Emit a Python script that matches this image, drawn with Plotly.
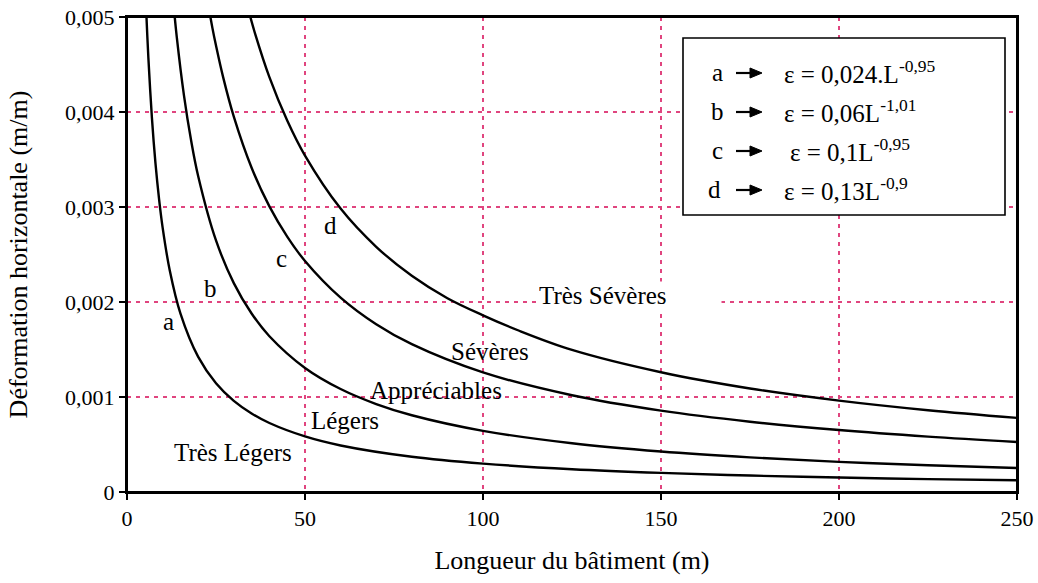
import plotly.graph_objects as go

# ---- data ----
L_a = [5, 5.5, 6, 7, 8, 9, 10, 12, 15, 20, 25, 30, 35, 40, 50, 60, 80, 100, 125, 150, 175, 200, 225, 250]
eps_a = [0.005457, 0.004975, 0.004573, 0.003938, 0.003459, 0.003086, 0.002786, 0.002334, 0.001880, 0.001422,
         0.001145, 0.000960, 0.000827, 0.000726, 0.000585, 0.000490, 0.000371, 0.000299, 0.000240, 0.000201,
         0.000173, 0.000152, 0.000136, 0.000123]

L_b = [13, 14, 16, 18, 20, 25, 30, 35, 40, 50, 60, 70, 80, 100, 125, 150, 175, 200, 225, 250]
eps_b = [0.005161, 0.004783, 0.004175, 0.003702, 0.003324, 0.002648, 0.002199, 0.001879, 0.001640, 0.001306,
         0.001084, 0.000926, 0.000808, 0.000644, 0.000513, 0.000426, 0.000364, 0.000317, 0.000281, 0.000253]

L_c = [22, 24, 25, 27, 30, 35, 40, 45, 50, 60, 70, 80, 100, 125, 150, 175, 200, 225, 250]
eps_c = [0.005305, 0.004883, 0.004699, 0.004367, 0.003951, 0.003413, 0.003007, 0.002689, 0.002432, 0.002046,
         0.001766, 0.001556, 0.001259, 0.001018, 0.000856, 0.000740, 0.000652, 0.000583, 0.000527]

L_d = [34, 36, 40, 45, 50, 60, 70, 80, 90, 100, 110, 125, 150, 175, 200, 225, 250]
eps_d = [0.005089, 0.004823, 0.004367, 0.003910, 0.003541, 0.002983, 0.002581, 0.002276, 0.002040, 0.001860,
         0.001700, 0.001496, 0.001261, 0.001090, 0.000962, 0.000861, 0.000780]

x_ticks = [0, 50, 100, 150, 200, 250]
x_ticklabels = ["0", "50", "100", "150", "200", "250"]
y_ticks = [0, 0.001, 0.002, 0.003, 0.004, 0.005]
y_ticklabels = ["0", "0,001", "0,002", "0,003", "0,004", "0,005"]

curve_letters = ["a", "b", "c", "d"]
zone_labels = ["Très Légers", "Légers", "Appréciables", "Sévères", "Très Sévères"]
equations = ["ε = 0,024.L<sup>-0,95</sup>", "ε = 0,06L<sup>-1,01</sup>",
             "ε = 0,1L<sup>-0,95</sup>", "ε = 0,13L<sup>-0,9</sup>"]

# ---- layout geometry (page pixels; page body margin removed by post_script) ----
W, H = 1038, 583
PL, PR, PT, PB = 127, 1017, 17, 492          # plot area in page pixels
ML, MT = PL, PT
MR, MB = W - PR, H - PB
X0, X1 = 0, 250
Y0, Y1 = 0, 0.005


def dx(px):
    return X0 + (px - PL) / (PR - PL) * (X1 - X0)


def dy(py):
    return Y0 + (PB - py) / (PB - PT) * (Y1 - Y0)


FONT = "Liberation Serif, Times New Roman, serif"
GRID = "#e0457f"

fig = go.Figure()
for L, e, n in [(L_a, eps_a, "a"), (L_b, eps_b, "b"), (L_c, eps_c, "c"), (L_d, eps_d, "d")]:
    fig.add_trace(go.Scatter(x=L, y=e, mode="lines", name=n,
                             line=dict(color="black", width=2.4, shape="spline", smoothing=1.0),
                             showlegend=False, hoverinfo="skip"))

ann = []
# curve letters
for t, (px, py) in zip(curve_letters, [(168, 321), (210, 288), (281, 258), (330, 225)]):
    ann.append(dict(x=dx(px), y=dy(py), text=t, showarrow=False, font=dict(size=25)))
# zone labels
for t, (px, py) in zip(zone_labels[:4], [(233, 452), (345, 420), (436, 390), (490, 351)]):
    ann.append(dict(x=dx(px), y=dy(py), text=t, showarrow=False, font=dict(size=25)))
ann.append(dict(x=dx(538), y=dy(295), text=zone_labels[4], showarrow=False, xanchor="left",
                align="left", width=182, bgcolor="white", borderpad=0, font=dict(size=25)))

shapes = [
    # legend frame
    dict(type="rect", xref="x", yref="y", x0=dx(683), x1=dx(1005), y0=dy(215), y1=dy(38),
         line=dict(color="black", width=1.6), fillcolor="white", layer="above"),
    # plot frame
    dict(type="rect", xref="paper", yref="paper", x0=0, x1=1, y0=0, y1=1,
         line=dict(color="black", width=2), fillcolor="rgba(0,0,0,0)", layer="above"),
]

# legend box content
rows_y = [72, 111, 150, 189]
letter_x = [717, 717, 717, 714]
eq_x = [782, 782, 788, 782]
for t, eq, ry, lx, ex in zip(curve_letters, equations, rows_y, letter_x, eq_x):
    ann.append(dict(x=dx(lx), y=dy(ry), text=t, showarrow=False, font=dict(size=25)))
    ann.append(dict(x=dx(ex), y=dy(ry), text=eq, showarrow=False, xanchor="left", font=dict(size=25)))
    # arrow: shaft + filled head
    shapes.append(dict(type="line", xref="x", yref="y", x0=dx(736), x1=dx(752), y0=dy(ry + 1), y1=dy(ry + 1),
                       line=dict(color="black", width=2.2), layer="above"))
    shapes.append(dict(type="path", xref="x", yref="y",
                       path=f"M {dx(750)},{dy(ry - 4)} L {dx(762)},{dy(ry + 1)} L {dx(750)},{dy(ry + 6)} Z",
                       fillcolor="black", line=dict(color="black", width=1), layer="above"))

fig.update_layout(
    width=W, height=H,
    margin=dict(l=ML, r=MR, t=MT, b=MB, autoexpand=False),
    paper_bgcolor="white", plot_bgcolor="white",
    font=dict(family=FONT, color="black", size=21),
    xaxis=dict(range=[X0, X1], tickvals=x_ticks, ticktext=x_ticklabels, automargin=False,
               showline=True, linecolor="black", linewidth=2, mirror=True,
               ticks="outside", ticklen=6, tickcolor="black", tickwidth=1.5,
               ticklabeloverflow="allow",
               showgrid=True, gridcolor=GRID, griddash="4px,5px", gridwidth=1.5,
               zeroline=False, tickfont=dict(size=22),
               title=dict(text="Longueur du bâtiment (m)", font=dict(size=26), standoff=20)),
    yaxis=dict(range=[Y0, Y1], tickvals=y_ticks, ticktext=y_ticklabels, automargin=False,
               showline=True, linecolor="black", linewidth=2, mirror=True,
               ticks="outside", ticklen=6, tickcolor="black", tickwidth=1.5,
               ticklabeloverflow="allow",
               showgrid=True, gridcolor=GRID, griddash="4px,5px", gridwidth=1.5,
               zeroline=False, tickfont=dict(size=22),
               title=dict(text="Déformation horizontale (m/m)", font=dict(size=26), standoff=30)),
    shapes=shapes,
    annotations=ann,
)

fig.write_html("out.html", config={"displayModeBar": False},
               post_script="document.body.style.margin='0';")
